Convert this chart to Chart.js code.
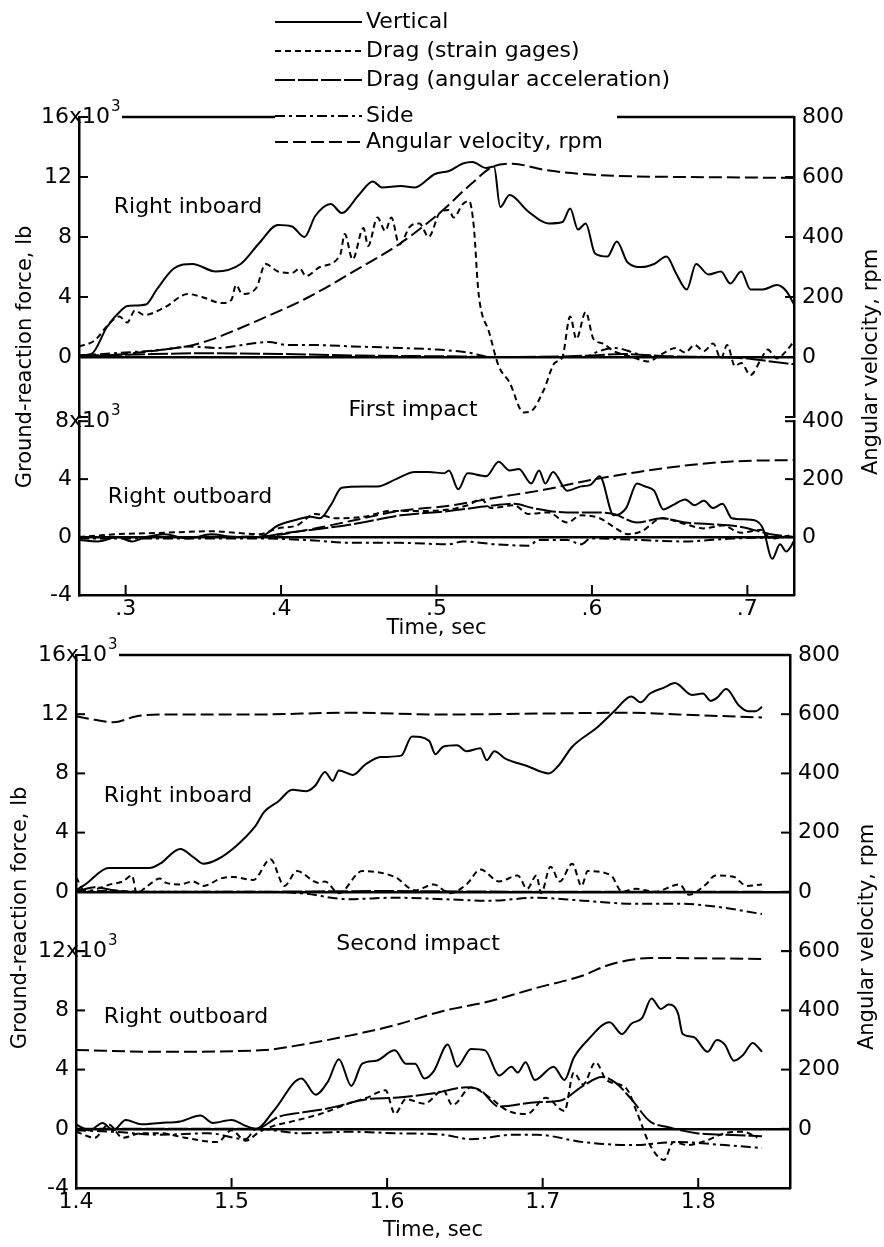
<!DOCTYPE html>
<html>
<head>
<meta charset="utf-8">
<script src="https://cdn.jsdelivr.net/npm/chart.js@4.4.1/dist/chart.umd.min.js"></script>
<style>
  html, body { margin: 0; padding: 0; background: #fff; }
  #page { position: relative; width: 884px; height: 1247px; overflow: hidden; background: #fff; }
  #page canvas { position: absolute; left: 0; }
</style>
</head>
<body>
<div id="page">
  <canvas id="p1in" width="884" height="645" style="top:0px"></canvas>
  <canvas id="p1out" width="884" height="245" style="top:400px"></canvas>
  <canvas id="p2in" width="884" height="647" style="top:600px"></canvas>
  <canvas id="p2out" width="884" height="317" style="top:930px"></canvas>
</div>
<script>
// legend names, in order
const seriesNames = ['Vertical', 'Drag (strain gages)', 'Drag (angular acceleration)', 'Side', 'Angular velocity, rpm'];
const seriesKeys = ['vertical', 'dragGage', 'dragAccel', 'side', 'angVel'];

const p1XTicks = [0.3, 0.4, 0.5, 0.6, 0.7];
const p1XLabels = ['.3', '.4', '.5', '.6', '.7'];
const p2XTicks = [1.4, 1.5, 1.6, 1.7, 1.8];
const p2XLabels = ['1.4', '1.5', '1.6', '1.7', '1.8'];

// first impact, right inboard  [time sec, force 10^3 lb] / [time, rpm]
const p1InVertical = [[0.270,0.1],[0.278,0.2],[0.288,2.0],[0.298,3.2],[0.301,3.4],[0.313,3.5],[0.320,4.5],[0.331,5.9],[0.343,6.2],[0.358,5.7],[0.374,6.2],[0.386,7.6],[0.398,8.8],[0.407,8.7],[0.415,8.0],[0.422,9.4],[0.432,10.2],[0.439,9.6],[0.450,10.8],[0.459,11.7],[0.465,11.3],[0.477,11.4],[0.486,11.3],[0.499,12.2],[0.508,12.4],[0.517,12.9],[0.523,13.0],[0.532,12.6],[0.537,12.7],[0.541,10.0],[0.547,10.8],[0.559,9.7],[0.572,8.9],[0.581,9.0],[0.586,9.9],[0.591,8.5],[0.596,8.9],[0.602,6.9],[0.610,6.7],[0.616,7.7],[0.623,6.3],[0.632,6.0],[0.640,6.2],[0.648,6.7],[0.654,5.6],[0.661,4.5],[0.667,6.2],[0.675,5.5],[0.683,5.7],[0.689,4.9],[0.696,5.7],[0.702,4.5],[0.710,4.5],[0.719,4.8],[0.725,4.4],[0.731,3.3]];
const p1InDragGage = [[0.270,0.7],[0.280,1.1],[0.290,2.3],[0.296,2.7],[0.301,2.3],[0.306,3.1],[0.312,2.8],[0.325,3.3],[0.340,4.2],[0.349,4.0],[0.362,3.6],[0.368,3.8],[0.371,4.8],[0.375,4.2],[0.384,4.6],[0.390,6.2],[0.398,5.7],[0.407,5.6],[0.412,5.9],[0.416,5.4],[0.425,6.0],[0.438,6.8],[0.441,8.2],[0.446,6.5],[0.453,8.6],[0.456,7.4],[0.462,9.3],[0.467,8.4],[0.471,9.3],[0.476,7.5],[0.483,8.7],[0.489,8.9],[0.495,8.0],[0.502,9.6],[0.508,9.8],[0.511,9.3],[0.517,10.2],[0.521,10.4],[0.524,8.7],[0.527,4.3],[0.534,1.6],[0.540,-0.6],[0.547,-1.7],[0.556,-3.7],[0.561,-3.6],[0.569,-2.2],[0.576,-0.4],[0.581,0.0],[0.586,2.7],[0.590,1.2],[0.596,3.0],[0.601,1.2],[0.607,0.9],[0.614,0.4],[0.626,0.0],[0.636,-0.3],[0.645,0.2],[0.654,0.6],[0.660,0.3],[0.666,0.8],[0.672,0.4],[0.678,0.9],[0.683,-0.1],[0.687,0.8],[0.692,-0.6],[0.696,-0.4],[0.702,-1.2],[0.709,-0.1],[0.713,0.5],[0.719,-0.1],[0.725,0.4],[0.731,1.2]];
const p1InDragAccel = [[0.270,0.1],[0.300,0.15],[0.350,0.25],[0.400,0.2],[0.450,0.1],[0.500,0.05],[0.550,0.0],[0.600,0.1],[0.620,0.2],[0.650,0.05],[0.680,0.0],[0.700,-0.1],[0.715,-0.3],[0.731,-0.5]];
const p1InSide = [[0.270,0.1],[0.300,0.3],[0.325,0.5],[0.340,0.7],[0.360,0.6],[0.375,0.8],[0.392,1.0],[0.404,0.8],[0.420,0.8],[0.447,0.7],[0.477,0.6],[0.500,0.5],[0.520,0.3],[0.535,0.0],[0.595,0.0],[0.605,0.4],[0.615,0.6],[0.630,0.2],[0.645,0.0],[0.731,0.0]];
const p1InAngVel = [[0.270,0],[0.300,10],[0.320,22],[0.340,36],[0.355,58],[0.386,124],[0.416,195],[0.447,286],[0.477,380],[0.502,480],[0.523,580],[0.537,636],[0.549,644],[0.569,624],[0.599,608],[0.629,602],[0.660,600],[0.731,597]];

// first impact, right outboard
const p1OutVertical = [[0.270,-0.2],[0.282,-0.3],[0.295,0.0],[0.304,-0.3],[0.313,0.0],[0.325,0.2],[0.340,-0.1],[0.355,0.2],[0.371,0.0],[0.386,0.0],[0.398,0.8],[0.410,1.2],[0.419,1.4],[0.425,1.3],[0.432,2.2],[0.439,3.4],[0.453,3.5],[0.462,3.5],[0.474,4.0],[0.486,4.5],[0.495,4.5],[0.505,4.4],[0.508,4.6],[0.514,3.3],[0.520,4.4],[0.532,4.2],[0.540,5.2],[0.547,4.6],[0.553,4.7],[0.561,3.7],[0.566,4.6],[0.570,3.7],[0.575,4.5],[0.584,3.2],[0.593,3.5],[0.599,3.6],[0.605,4.2],[0.614,1.5],[0.622,2.0],[0.629,3.7],[0.634,3.5],[0.640,3.2],[0.646,1.9],[0.652,2.2],[0.660,2.6],[0.666,2.2],[0.672,2.5],[0.678,2.0],[0.684,2.3],[0.690,1.3],[0.702,1.2],[0.710,0.6],[0.716,-1.5],[0.721,-0.5],[0.725,-1.0],[0.731,-0.1]];
const p1OutDragGage = [[0.270,0.0],[0.295,0.2],[0.325,0.3],[0.355,0.4],[0.386,0.2],[0.398,0.6],[0.410,0.8],[0.422,1.6],[0.435,1.3],[0.453,1.4],[0.471,1.8],[0.489,1.8],[0.508,1.9],[0.520,2.2],[0.529,2.6],[0.535,2.0],[0.550,2.2],[0.559,1.6],[0.572,1.7],[0.584,1.0],[0.593,1.5],[0.605,1.3],[0.614,0.7],[0.623,0.2],[0.632,0.4],[0.645,1.3],[0.660,0.9],[0.672,0.6],[0.684,0.8],[0.696,0.3],[0.709,0.5],[0.715,-0.1],[0.731,0.2]];
const p1OutDragAccel = [[0.270,0.0],[0.386,0.0],[0.398,0.2],[0.447,0.9],[0.477,1.5],[0.508,1.8],[0.538,2.2],[0.550,2.3],[0.562,2.0],[0.584,1.7],[0.599,1.7],[0.614,1.6],[0.629,1.0],[0.645,1.3],[0.660,1.0],[0.675,0.9],[0.696,0.7],[0.715,0.2],[0.731,0.0]];
const p1OutSide = [[0.270,-0.1],[0.386,-0.1],[0.416,-0.2],[0.447,-0.4],[0.477,-0.4],[0.508,-0.5],[0.517,-0.3],[0.538,-0.5],[0.559,-0.6],[0.566,-0.2],[0.584,-0.2],[0.593,-0.5],[0.599,-0.1],[0.660,-0.3],[0.690,-0.1],[0.731,0.0]];
const p1OutAngVel = [[0.270,0],[0.386,2],[0.416,24],[0.447,58],[0.477,91],[0.508,108],[0.538,136],[0.569,163],[0.599,197],[0.629,224],[0.660,247],[0.690,261],[0.731,266]];

// second impact, right inboard
const p2InVertical = [[1.400,0.1],[1.406,0.5],[1.421,1.6],[1.439,1.6],[1.447,1.6],[1.454,1.9],[1.467,2.9],[1.476,2.3],[1.482,1.9],[1.491,2.2],[1.503,3.1],[1.515,4.4],[1.521,5.4],[1.530,6.1],[1.539,6.9],[1.548,6.8],[1.554,7.2],[1.560,8.1],[1.565,7.5],[1.569,8.2],[1.578,7.9],[1.586,8.6],[1.596,9.1],[1.609,9.2],[1.616,10.5],[1.627,10.2],[1.631,9.3],[1.636,9.8],[1.645,9.9],[1.651,9.5],[1.660,9.7],[1.664,8.9],[1.669,9.5],[1.676,9.0],[1.690,8.5],[1.704,8.0],[1.710,8.5],[1.719,9.8],[1.735,11.1],[1.746,12.2],[1.757,13.2],[1.763,12.8],[1.769,13.4],[1.778,13.8],[1.785,14.1],[1.796,13.3],[1.803,13.4],[1.808,12.9],[1.812,13.1],[1.818,13.7],[1.826,12.6],[1.832,12.2],[1.837,12.2],[1.841,12.5]];
const p2InDragGage = [[1.400,1.0],[1.406,0.0],[1.415,0.25],[1.422,0.5],[1.430,0.7],[1.436,1.1],[1.439,-0.1],[1.446,0.4],[1.454,0.9],[1.458,0.6],[1.467,0.5],[1.475,0.7],[1.482,0.4],[1.493,0.9],[1.501,1.0],[1.514,0.8],[1.525,2.2],[1.534,0.4],[1.542,1.4],[1.556,0.6],[1.560,0.7],[1.569,-0.1],[1.584,1.4],[1.605,1.0],[1.618,0.1],[1.630,0.5],[1.640,-0.1],[1.651,0.5],[1.660,1.5],[1.672,0.7],[1.684,1.1],[1.690,0.2],[1.696,1.1],[1.699,-0.1],[1.705,1.7],[1.711,0.7],[1.719,1.9],[1.725,0.4],[1.729,1.4],[1.744,1.1],[1.751,0.0],[1.760,0.2],[1.772,0.0],[1.788,0.5],[1.794,-0.2],[1.805,0.5],[1.811,1.1],[1.823,1.0],[1.831,0.4],[1.841,0.5]];
const p2InDragAccel = [[1.400,0.0],[1.412,0.3],[1.425,0.1],[1.440,0.0],[1.500,0.0],[1.600,0.05],[1.700,0.0],[1.841,0.0]];
const p2InSide = [[1.400,0.1],[1.454,0.0],[1.515,0.0],[1.545,-0.1],[1.575,-0.5],[1.605,-0.4],[1.636,-0.5],[1.666,-0.6],[1.696,-0.4],[1.726,-0.6],[1.757,-0.8],[1.787,-0.8],[1.811,-1.0],[1.841,-1.5]];
const p2InAngVel = [[1.400,593],[1.412,581],[1.424,573],[1.439,593],[1.454,599],[1.515,599],[1.575,605],[1.636,599],[1.696,602],[1.757,605],[1.787,599],[1.841,589]];

// second impact, right outboard
const p2OutVertical = [[1.400,0.3],[1.409,-0.1],[1.417,0.4],[1.424,-0.1],[1.432,0.6],[1.442,0.3],[1.454,0.4],[1.467,0.5],[1.480,0.9],[1.488,0.4],[1.500,0.6],[1.509,0.2],[1.516,0.0],[1.527,1.2],[1.545,3.4],[1.554,2.3],[1.562,3.2],[1.569,4.7],[1.577,2.9],[1.584,4.4],[1.593,4.6],[1.605,5.3],[1.612,4.4],[1.618,4.4],[1.624,3.4],[1.630,3.9],[1.639,5.7],[1.645,4.2],[1.654,5.4],[1.663,5.3],[1.672,3.6],[1.680,4.2],[1.684,3.8],[1.689,4.5],[1.695,3.3],[1.707,4.2],[1.714,3.3],[1.720,4.8],[1.729,6.0],[1.743,7.2],[1.751,6.4],[1.757,7.1],[1.764,7.5],[1.770,8.8],[1.776,8.1],[1.781,8.4],[1.787,7.8],[1.790,6.4],[1.797,6.2],[1.806,5.2],[1.812,6.0],[1.817,5.7],[1.823,4.6],[1.829,5.0],[1.835,5.8],[1.841,5.2]];
const p2OutDragGage = [[1.400,-0.2],[1.412,-0.6],[1.421,0.3],[1.430,-0.6],[1.442,-0.3],[1.454,-0.3],[1.470,-0.6],[1.491,-0.9],[1.500,-0.1],[1.509,-0.8],[1.518,-0.2],[1.527,0.2],[1.539,0.5],[1.557,1.0],[1.575,1.7],[1.587,2.1],[1.599,2.6],[1.605,1.0],[1.612,2.0],[1.624,1.7],[1.636,2.6],[1.642,1.6],[1.654,2.8],[1.666,2.1],[1.678,1.2],[1.690,1.0],[1.702,2.1],[1.714,1.2],[1.720,3.8],[1.726,3.0],[1.734,4.5],[1.741,3.3],[1.754,2.7],[1.761,1.0],[1.769,-1.1],[1.778,-2.1],[1.784,-0.9],[1.793,-1.1],[1.805,-0.8],[1.817,-0.3],[1.829,-0.2],[1.838,-0.6]];
const p2OutDragAccel = [[1.400,0.0],[1.516,0.0],[1.530,0.8],[1.545,1.1],[1.563,1.4],[1.587,2.0],[1.605,2.1],[1.630,2.4],[1.651,2.8],[1.660,2.6],[1.672,1.5],[1.696,1.8],[1.711,1.9],[1.726,2.9],[1.738,3.5],[1.747,3.1],[1.757,2.0],[1.769,0.5],[1.781,0.1],[1.799,-0.3],[1.817,-0.4],[1.841,-0.5]];
const p2OutSide = [[1.400,-0.1],[1.424,-0.2],[1.454,-0.4],[1.485,-0.3],[1.509,-0.7],[1.516,0.0],[1.545,-0.3],[1.575,-0.2],[1.605,-0.3],[1.636,-0.4],[1.654,-0.7],[1.681,-0.4],[1.696,-0.4],[1.726,-0.9],[1.757,-1.1],[1.787,-0.9],[1.817,-1.1],[1.841,-1.3]];
const p2OutAngVel = [[1.400,266],[1.454,260],[1.521,266],[1.545,284],[1.575,314],[1.605,350],[1.636,398],[1.666,431],[1.696,476],[1.726,518],[1.741,551],[1.757,571],[1.769,577],[1.841,574]];

const dashes = {
  vertical: [],
  dragGage: [6, 4],
  dragAccel: [20, 3],
  side: [10, 4, 3, 4],
  angVel: [13, 5]
};

const FONT = '"DejaVu Sans", sans-serif';
Chart.defaults.font.family = FONT;
Chart.defaults.color = '#000';

function pts(arr) {
  return arr.map(p => ({ x: p[0], y: p[1] }));
}

function ds(arr, kind, axis) {
  return {
    data: pts(arr),
    borderColor: '#000',
    borderWidth: 2,
    borderDash: dashes[kind],
    yAxisID: axis || 'y',
    pointRadius: 0,
    fill: false,
    cubicInterpolationMode: 'monotone'
  };
}

// extra drawing: inside tick marks, x10^3 labels, top border, legend, notes, axis titles
const decorPlugin = {
  id: 'decor',
  afterDraw(chart, args, o) {
    const ctx = chart.ctx;
    const a = chart.chartArea;
    const off = o.offset || 0;
    const sy = chart.scales.y, sr = chart.scales.y1, sx = chart.scales.x;
    const seg = (x1, y1, x2, y2) => { ctx.beginPath(); ctx.moveTo(x1, y1); ctx.lineTo(x2, y2); ctx.stroke(); };
    ctx.save();
    ctx.strokeStyle = '#000';
    ctx.fillStyle = '#000';
    ctx.lineWidth = 2;
    ctx.setLineDash([]);
    sy.ticks.forEach(t => { const p = sy.getPixelForValue(t.value); seg(a.left, p, a.left + 9, p); });
    sr.ticks.forEach(t => { const p = sr.getPixelForValue(t.value); seg(a.right - 9, p, a.right, p); });
    if (sx.options.display) {
      sx.ticks.forEach(t => { const p = sx.getPixelForValue(t.value); seg(p, a.bottom, p, a.bottom - 10); });
    }

    let labelEnd = a.left;
    if (o.big) {
      const p = sy.getPixelForValue(o.big.value);
      ctx.font = '22px ' + FONT;
      ctx.textBaseline = 'middle';
      ctx.textAlign = 'right';
      ctx.fillText(o.big.text, a.left - 10, p);
      ctx.textAlign = 'left';
      ctx.fillText('x10', a.left - 10, p);
      const w = ctx.measureText('x10').width;
      ctx.font = '15px ' + FONT;
      ctx.fillText('3', a.left - 9 + w, p - 10);
      labelEnd = a.left - 9 + w + 11;
    }

    if (o.border) {
      ctx.lineWidth = 2.5;
      o.border.forEach(s => seg(s[0] == null ? labelEnd : s[0], a.top, s[1] == null ? a.right : s[1], a.top));
    }

    if (o.legend) {
      const L = o.legend;
      ctx.font = '22px ' + FONT;
      ctx.textAlign = 'left';
      ctx.textBaseline = 'middle';
      seriesNames.forEach((name, i) => {
        const y = L.rows[i] - off;
        ctx.lineWidth = 2;
        ctx.setLineDash(dashes[seriesKeys[i]]);
        seg(L.x0, y, L.x1, y);
        ctx.setLineDash([]);
        ctx.fillText(name, L.tx, y);
      });
    }

    if (o.notes) {
      ctx.font = '22px ' + FONT;
      ctx.textAlign = 'center';
      ctx.textBaseline = 'middle';
      o.notes.forEach(n => ctx.fillText(n.text, n.x, n.y - off));
    }

    if (o.titles) {
      ctx.font = '21px ' + FONT;
      ctx.textAlign = 'center';
      ctx.textBaseline = 'middle';
      o.titles.forEach(t => {
        ctx.save();
        ctx.translate(t.x, t.y - off);
        ctx.rotate(-Math.PI / 2);
        ctx.fillText(t.text, 0, 0);
        ctx.restore();
      });
    }
    ctx.restore();
  }
};

function buildChart(id, c) {
  return new Chart(document.getElementById(id), {
    type: 'line',
    data: { datasets: c.datasets },
    options: {
      responsive: false,
      animation: false,
      events: [],
      layout: { padding: { top: c.padTop, bottom: c.padBottom, left: 0, right: 0 } },
      plugins: { legend: { display: false }, tooltip: { enabled: false }, decor: c.decor },
      scales: {
        x: {
          type: 'linear', min: c.xMin, max: c.xMax, display: c.showX,
          afterBuildTicks: s => { s.ticks = c.xTicks.map(v => ({ value: v })); },
          ticks: { callback: (v, i) => c.xLabels[i], font: { size: 22 }, padding: 1, maxRotation: 0, autoSkip: false },
          grid: { display: false, drawTicks: false },
          border: { display: true, color: '#000', width: 2.5 },
          title: { display: true, text: 'Time, sec', font: { size: 21 }, padding: { top: 0, bottom: 4 } },
          afterFit: s => { s.height = c.showX ? c.xHeight : 0; }
        },
        y: {
          type: 'linear', position: 'left', min: c.yMin, max: c.yMax,
          ticks: { stepSize: 4, callback: v => c.yHide.includes(v) ? '' : String(v), font: { size: 22 }, padding: 7 },
          grid: { drawTicks: false, lineWidth: 2.5, color: g => (g.tick && g.tick.value === 0) ? '#000' : 'rgba(0,0,0,0)' },
          border: { display: true, color: '#000', width: 2.5 },
          afterFit: s => { s.width = c.leftW; }
        },
        y1: {
          type: 'linear', axis: 'y', position: 'right', min: c.rMin, max: c.rMax,
          ticks: { stepSize: 200, callback: v => v < 0 ? '' : String(v), font: { size: 22 }, padding: 8 },
          grid: { display: false, drawTicks: false },
          border: { display: true, color: '#000', width: 2.5 },
          afterFit: s => { s.width = c.rightW; }
        }
      }
    },
    plugins: [decorPlugin]
  });
}

function set(v, g, a, s, w) {
  return [ds(v, 'vertical'), ds(g, 'dragGage'), ds(a, 'dragAccel'), ds(s, 'side'), ds(w, 'angVel', 'y1')];
}

// first impact
buildChart('p1in', {
  datasets: set(p1InVertical, p1InDragGage, p1InDragAccel, p1InSide, p1InAngVel),
  padTop: 117, padBottom: 228, showX: false,
  xMin: 0.27, xMax: 0.73, xTicks: p1XTicks, xLabels: p1XLabels,
  yMin: -4, yMax: 16, yHide: [-4, 16], rMin: -200, rMax: 800,
  leftW: 79, rightW: 90,
  decor: {
    offset: 0,
    big: { value: 16, text: '16' },
    border: [[null, 275], [617, null]],
    legend: { x0: 275, x1: 362, tx: 366, rows: [22, 51, 80, 116, 142] },
    notes: [{ text: 'Right inboard', x: 188, y: 207 }, { text: 'First impact', x: 413, y: 410 }, { text: 'Right outboard', x: 190, y: 497 }],
    titles: [{ text: 'Ground-reaction force, lb', x: 26, y: 357 }, { text: 'Angular velocity, rpm', x: 872, y: 362 }]
  }
});
buildChart('p1out', {
  datasets: set(p1OutVertical, p1OutDragGage, p1OutDragAccel, p1OutSide, p1OutAngVel),
  padTop: 17, padBottom: 0, showX: true, xHeight: 50,
  xMin: 0.27, xMax: 0.73, xTicks: p1XTicks, xLabels: p1XLabels,
  yMin: -4, yMax: 8, yHide: [8], rMin: -200, rMax: 400,
  leftW: 79, rightW: 90,
  decor: { offset: 400, big: { value: 8, text: '8' } }
});

// second impact
buildChart('p2in', {
  datasets: set(p2InVertical, p2InDragGage, p2InDragAccel, p2InSide, p2InAngVel),
  padTop: 55, padBottom: 296, showX: false,
  xMin: 1.4, xMax: 1.859, xTicks: p2XTicks, xLabels: p2XLabels,
  yMin: -4, yMax: 16, yHide: [-4, 16], rMin: -200, rMax: 800,
  leftW: 76, rightW: 94,
  decor: {
    offset: 600,
    big: { value: 16, text: '16' },
    border: [[null, null]],
    notes: [{ text: 'Right inboard', x: 178, y: 796 }, { text: 'Second impact', x: 418, y: 944 }, { text: 'Right outboard', x: 186, y: 1017 }],
    titles: [{ text: 'Ground-reaction force, lb', x: 21, y: 918 }, { text: 'Angular velocity, rpm', x: 868, y: 937 }]
  }
});
buildChart('p2out', {
  datasets: set(p2OutVertical, p2OutDragGage, p2OutDragAccel, p2OutSide, p2OutAngVel),
  padTop: 21, padBottom: 0, showX: true, xHeight: 59,
  xMin: 1.4, xMax: 1.859, xTicks: p2XTicks, xLabels: p2XLabels,
  yMin: -4, yMax: 12, yHide: [12], rMin: -200, rMax: 600,
  leftW: 76, rightW: 94,
  decor: { offset: 930, big: { value: 12, text: '12' } }
});
</script>
</body>
</html>
